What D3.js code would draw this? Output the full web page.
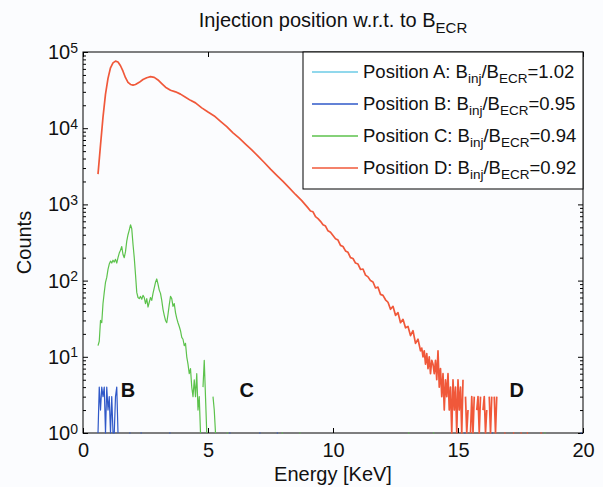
<!DOCTYPE html>
<html>
<head>
<meta charset="utf-8">
<script src="https://cdn.jsdelivr.net/npm/d3@7/dist/d3.min.js"></script>
<style>
  body { margin: 0; background: #fbfcfe; }
  svg { display: block; font-family: "Liberation Sans", Arial, sans-serif; }
</style>
</head>
<body>
<div id="chart"></div>
<script>
// energy [keV], counts  (0 = empty bin, not drawn on log axis)
var posA = [];   // no counts above 10^0 for position A

var posB = [
  [0.60, 1], [0.65, 4], [0.70, 2], [0.75, 4], [0.80, 3], [0.85, 4], [0.90, 1],
  [0.95, 4], [1.00, 2], [1.05, 3], [1.10, 1], [1.15, 3], [1.20, 1], [1.25, 1],
  [1.30, 3], [1.35, 4], [1.40, 1], [1.45, 0],
  [1.85, 1], [1.90, 1], [1.95, 0], [2.30, 1], [2.35, 1], [2.40, 0],
  [3.45, 1], [3.50, 1], [3.55, 0], [5.85, 1], [5.90, 1], [5.95, 0],
  [7.05, 1], [7.10, 1], [7.15, 0], [7.75, 1], [7.80, 1], [7.85, 0],
  [15.25, 1], [15.30, 1], [15.35, 0], [16.35, 1], [16.40, 1], [16.45, 0],
  [19.90, 1], [19.95, 1]
];

var posC = [
  [0.60, 14], [0.65, 16], [0.70, 30], [0.75, 28], [0.80, 50], [0.85, 70], [0.90, 95],
  [0.95, 110], [1.00, 140], [1.05, 165], [1.10, 180], [1.15, 170], [1.20, 185],
  [1.25, 175], [1.30, 190], [1.35, 170], [1.40, 200], [1.45, 230], [1.50, 250],
  [1.55, 280], [1.60, 220], [1.65, 200], [1.70, 240], [1.75, 330], [1.80, 400],
  [1.85, 460], [1.90, 540], [1.95, 480], [2.00, 300], [2.05, 200], [2.10, 120],
  [2.15, 70], [2.20, 60], [2.25, 58], [2.30, 62], [2.35, 57], [2.40, 64], [2.45, 60],
  [2.50, 50], [2.55, 58], [2.60, 45], [2.65, 52], [2.70, 60], [2.75, 55], [2.80, 68],
  [2.85, 80], [2.90, 95], [2.95, 105], [3.00, 90], [3.05, 75], [3.10, 68], [3.15, 55],
  [3.20, 42], [3.25, 35], [3.30, 30], [3.35, 28], [3.40, 36], [3.45, 48], [3.50, 62],
  [3.55, 58], [3.60, 46], [3.65, 50], [3.70, 38], [3.75, 32], [3.80, 28], [3.85, 25],
  [3.90, 22], [3.95, 18], [4.00, 17], [4.05, 14], [4.10, 15], [4.15, 10], [4.20, 8],
  [4.25, 6], [4.30, 7], [4.35, 4], [4.40, 3], [4.45, 5], [4.50, 3], [4.55, 6],
  [4.60, 2], [4.65, 3], [4.70, 1], [4.75, 0], [4.80, 4], [4.85, 9], [4.90, 3],
  [4.95, 1], [5.00, 0], [5.20, 3], [5.25, 2], [5.30, 1], [5.35, 0],
  [5.75, 1], [5.80, 1], [5.85, 0], [7.95, 1], [8.00, 1], [8.05, 0],
  [8.65, 1], [8.70, 1], [8.75, 0], [13.00, 1], [13.05, 1], [13.10, 0],
  [14.00, 1], [14.05, 1], [14.10, 0], [18.45, 1], [18.50, 1]
];

var posD = [
  [0.60, 2500], [0.70, 6000], [0.80, 14000], [0.90, 28000], [1.00, 45000],
  [1.10, 62000], [1.20, 72000], [1.30, 76000], [1.40, 74000], [1.50, 66000],
  [1.60, 56000], [1.70, 46000], [1.80, 40000], [1.90, 37500], [2.00, 36800],
  [2.10, 37500], [2.25, 40000], [2.40, 43500], [2.55, 46000], [2.70, 47500],
  [2.85, 46500], [3.00, 43000], [3.15, 38500], [3.30, 34500], [3.50, 31500],
  [3.70, 30000], [3.90, 28000], [4.10, 25500], [4.30, 23200], [4.50, 21500],
  [4.75, 18500], [5.00, 16300], [5.25, 14500], [5.50, 12300], [5.75, 10500],
  [6.00, 8700], [6.25, 7400], [6.50, 6200], [6.75, 5200], [7.00, 4300],
  [7.25, 3550], [7.50, 2900], [7.75, 2400], [8.00, 2000], [8.25, 1650],
  [8.50, 1350], [8.75, 1120],
  [9.0, 900], [9.1, 820], [9.2, 800], [9.3, 690], [9.4, 650], [9.5, 600], [9.6, 540],
  [9.7, 520], [9.8, 450], [9.9, 430], [10.0, 390], [10.1, 355], [10.2, 340],
  [10.3, 290], [10.4, 280], [10.5, 245], [10.6, 235], [10.7, 200], [10.8, 195],
  [10.9, 170], [11.0, 165], [11.1, 140], [11.2, 142], [11.3, 118], [11.4, 112],
  [11.5, 100], [11.6, 96], [11.7, 80], [11.8, 82], [11.9, 66], [12.0, 64],
  [12.1, 56], [12.2, 52], [12.3, 42], [12.4, 46], [12.5, 35], [12.6, 38],
  [12.7, 28], [12.8, 31], [12.9, 24], [13.0, 25], [13.1, 19], [13.2, 22],
  [13.3, 15], [13.4, 17], [13.5, 12],
  [13.55, 13], [13.60, 10], [13.65, 12], [13.70, 8], [13.75, 11], [13.80, 7],
  [13.85, 10], [13.90, 6], [13.95, 9], [14.00, 8], [14.05, 6], [14.10, 9],
  [14.15, 5], [14.20, 12], [14.25, 4], [14.30, 7], [14.35, 3], [14.40, 6],
  [14.45, 2], [14.50, 5], [14.55, 3], [14.60, 6], [14.65, 2], [14.70, 4],
  [14.75, 1], [14.80, 5], [14.85, 2], [14.90, 4], [14.95, 1], [15.00, 5],
  [15.05, 2], [15.10, 4], [15.15, 1], [15.20, 5], [15.25, 0], [15.30, 3],
  [15.35, 1], [15.40, 2], [15.45, 0], [15.50, 1], [15.55, 3], [15.60, 1],
  [15.65, 3], [15.70, 0], [15.75, 2], [15.80, 3], [15.85, 1], [15.90, 3],
  [15.95, 0], [16.00, 2], [16.05, 3], [16.10, 1], [16.15, 2], [16.20, 0],
  [16.25, 3], [16.30, 1], [16.35, 3], [16.40, 0], [16.45, 3], [16.50, 1],
  [16.55, 3], [16.60, 0],
  [16.85, 1], [16.90, 1], [16.95, 0], [17.20, 1], [17.25, 1], [17.30, 0],
  [17.50, 1], [17.55, 1], [17.60, 0], [17.75, 1], [17.80, 1], [17.85, 0],
  [18.30, 1], [18.35, 1]
];

var seriesNames = ["A", "B", "C", "D"];
var seriesRatio = ["1.02", "0.95", "0.94", "0.92"];
var seriesColor = ["#6ccbe6", "#2f58c8", "#5cc24c", "#f0583a"];
var seriesWidth = [1.2, 1.2, 1.2, 1.7];
var seriesData = [posA, posB, posC, posD];

var xTicks = [0, 5, 10, 15, 20];
var yExps = [0, 1, 2, 3, 4, 5];

// the B / C / D marks written inside the plot
var markText = ["B", "C", "D"];
var markEnergy = [1.8, 6.55, 17.35];
var markCounts = [3.7, 3.7, 3.7];

var W = 603, H = 487;
var plotL = 83, plotR = 583, plotT = 52, plotB = 433;

var svg = d3.select("#chart").append("svg")
  .attr("width", W)
  .attr("height", H);

var x = d3.scaleLinear().domain([0, 20]).range([plotL, plotR]);
var y = d3.scaleLog().domain([1, 1e5]).range([plotB, plotT]);

// major and minor log ticks
var yMajor = yExps.map(function(e) { return Math.pow(10, e); });
var yMinor = [];
yExps.slice(0, 5).forEach(function(e) {
  for (var m = 2; m <= 9; m++) yMinor.push(m * Math.pow(10, e));
});
var yAll = yMajor.concat(yMinor);

function isMajor(v) { return yMajor.indexOf(v) >= 0; }

//*** axes ***//
svg.append("g")
  .attr("transform", "translate(0," + plotB + ")")
  .call(d3.axisBottom(x).tickValues(xTicks).tickSize(-5).tickSizeOuter(0).tickPadding(10));

svg.append("g")
  .attr("transform", "translate(0," + plotT + ")")
  .call(d3.axisTop(x).tickValues(xTicks).tickSize(-5).tickSizeOuter(0).tickFormat(""));

var gy = svg.append("g")
  .attr("transform", "translate(" + plotL + ",0)")
  .call(d3.axisLeft(y).tickValues(yAll).tickSize(-5).tickSizeOuter(0).tickPadding(5)
    .tickFormat(function(d) { return isMajor(d) ? "10" : ""; }));

var gyr = svg.append("g")
  .attr("transform", "translate(" + plotR + ",0)")
  .call(d3.axisRight(y).tickValues(yAll).tickSize(-5).tickSizeOuter(0).tickFormat(""));

svg.selectAll(".domain").remove();
svg.selectAll(".tick line").attr("stroke", "#000");
svg.selectAll(".tick text").attr("font-size", 20).attr("fill", "#111")
  .attr("font-family", "Liberation Sans, Arial, sans-serif");

// minor ticks are shorter
gy.selectAll(".tick").filter(function(d) { return !isMajor(d); })
  .select("line").attr("x2", 3);
gyr.selectAll(".tick").filter(function(d) { return !isMajor(d); })
  .select("line").attr("x2", -3);

// exponents as superscripts
gy.selectAll(".tick").filter(function(d) { return isMajor(d); })
  .select("text")
  .append("tspan")
  .attr("dy", "-0.45em")
  .attr("font-size", 14)
  .text(function(d) { return Math.round(Math.log10(d)); });

// frame
svg.append("rect")
  .attr("x", plotL).attr("y", plotT)
  .attr("width", plotR - plotL).attr("height", plotB - plotT)
  .attr("fill", "none").attr("stroke", "#000").attr("stroke-width", 1);

//*** data lines ***//
svg.append("clipPath").attr("id", "plotclip")
  .append("rect")
  .attr("x", plotL).attr("y", plotT - 1)
  .attr("width", plotR - plotL).attr("height", plotB - plotT + 2);

var line = d3.line()
  .defined(function(d) { return d[1] > 0; })
  .x(function(d) { return x(d[0]); })
  .y(function(d) { return y(d[1]); });

var plot = svg.append("g").attr("clip-path", "url(#plotclip)");
seriesData.forEach(function(s, i) {
  plot.append("path")
    .datum(s)
    .attr("d", line)
    .attr("fill", "none")
    .attr("stroke", seriesColor[i])
    .attr("stroke-width", seriesWidth[i])
    .attr("stroke-linejoin", "round");
});

// B / C / D marks
markText.forEach(function(t, i) {
  svg.append("text")
    .attr("x", x(markEnergy[i]))
    .attr("y", y(markCounts[i]))
    .attr("text-anchor", "middle")
    .attr("dominant-baseline", "central")
    .attr("font-size", 20)
    .attr("font-weight", "bold")
    .attr("fill", "#111")
    .text(t);
});

//*** legend ***//
var lg = svg.append("g");
lg.append("rect")
  .attr("x", 303).attr("y", plotT)
  .attr("width", plotR - 303).attr("height", 137)
  .attr("fill", "#fff").attr("stroke", "#000");

seriesNames.forEach(function(n, i) {
  var ry = 72 + i * 32;
  lg.append("line")
    .attr("x1", 312).attr("x2", 358)
    .attr("y1", ry).attr("y2", ry)
    .attr("stroke", seriesColor[i]).attr("stroke-width", 1.5);
  var t = lg.append("text")
    .attr("x", 363).attr("y", ry + 6)
    .attr("font-size", 18.5).attr("fill", "#111");
  t.append("tspan").text("Position " + n + ": B");
  t.append("tspan").attr("dy", 5).attr("font-size", 13.5).text("inj");
  t.append("tspan").attr("dy", -5).text("/B");
  t.append("tspan").attr("dy", 5).attr("font-size", 13.5).text("ECR");
  t.append("tspan").attr("dy", -5).text("=" + seriesRatio[i]);
});

//*** titles ***//
var title = svg.append("text")
  .attr("x", (plotL + plotR) / 2).attr("y", 27)
  .attr("text-anchor", "middle")
  .attr("font-size", 20).attr("fill", "#111");
title.append("tspan").text("Injection position w.r.t. to B");
title.append("tspan").attr("dy", 6).attr("font-size", 15).text("ECR");

svg.append("text")
  .attr("x", (plotL + plotR) / 2).attr("y", 481)
  .attr("text-anchor", "middle")
  .attr("font-size", 20).attr("fill", "#111")
  .text("Energy [KeV]");

svg.append("text")
  .attr("transform", "translate(31," + ((plotT + plotB) / 2) + ") rotate(-90)")
  .attr("text-anchor", "middle")
  .attr("font-size", 20).attr("fill", "#111")
  .text("Counts");
</script>
</body>
</html>
